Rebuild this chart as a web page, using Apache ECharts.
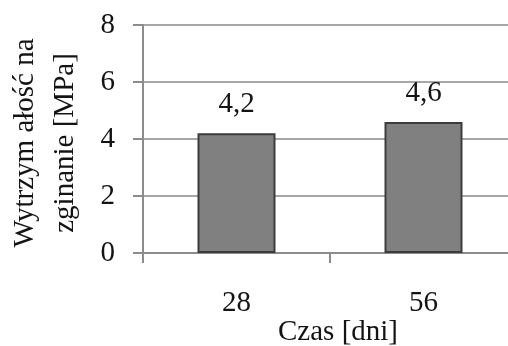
<!DOCTYPE html>
<html>
<head>
<meta charset="utf-8">
<script src="https://cdn.jsdelivr.net/npm/echarts@6/dist/echarts.min.js"></script>
<style>
  html, body { margin: 0; padding: 0; background: #fff; }
  #chart { width: 508px; height: 346px; }
</style>
</head>
<body>
<div id="chart"></div>
<script>
// Flexural strength after curing time
const categories = ['28', '56'];
const strength = [4.2, 4.6];
const yTicks = [0, 2, 4, 6, 8];

const FONT = '"Liberation Serif", "Times New Roman", serif';
const TEXT = '#141414';

const chart = echarts.init(document.getElementById('chart'), null, { renderer: 'canvas' });

chart.setOption({
  animation: false,
  backgroundColor: '#ffffff',
  grid: { left: 143, right: -9, top: 25, bottom: 93, outerBoundsMode: 'none', containLabel: false },
  xAxis: {
    type: 'category',
    data: categories,
    name: 'Czas [dni]',
    nameLocation: 'middle',
    nameGap: 65,
    nameMoveOverlap: false,
    nameTextStyle: { fontFamily: FONT, fontSize: 29, color: TEXT, padding: [0, 0, 0, 16] },
    axisLine: { lineStyle: { color: '#8c8c8c', width: 2 } },
    axisTick: { show: true, length: 10, alignWithLabel: false, lineStyle: { color: '#8c8c8c', width: 2 } },
    axisLabel: { fontFamily: FONT, fontSize: 29, color: TEXT, margin: 36 }
  },
  yAxis: {
    type: 'value',
    min: yTicks[0],
    max: yTicks[yTicks.length - 1],
    interval: 2,
    name: 'Wytrzym ałość na\nzginanie [MPa]',
    nameLocation: 'middle',
    nameRotate: 90,
    nameGap: 58,
    nameMoveOverlap: false,
    nameTextStyle: { fontFamily: FONT, fontSize: 29, color: TEXT, lineHeight: 40, padding: [0, 8, 0, 0] },
    axisLine: { show: true, lineStyle: { color: '#8c8c8c', width: 2 } },
    axisTick: { show: true, length: 10, lineStyle: { color: '#8c8c8c', width: 2 } },
    axisLabel: { fontFamily: FONT, fontSize: 29, color: TEXT, margin: 28 },
    splitLine: { show: true, lineStyle: { color: '#a6a6a6', width: 2 } }
  },
  series: [{
    type: 'bar',
    data: strength,
    barWidth: 78,
    itemStyle: { color: '#808080', borderColor: '#3c3c3c', borderWidth: 2 },
    label: {
      show: true,
      position: 'top',
      distance: 14,
      fontFamily: FONT,
      fontSize: 29,
      color: TEXT,
      formatter: p => String(p.value).replace('.', ',')
    }
  }]
});
</script>
</body>
</html>
